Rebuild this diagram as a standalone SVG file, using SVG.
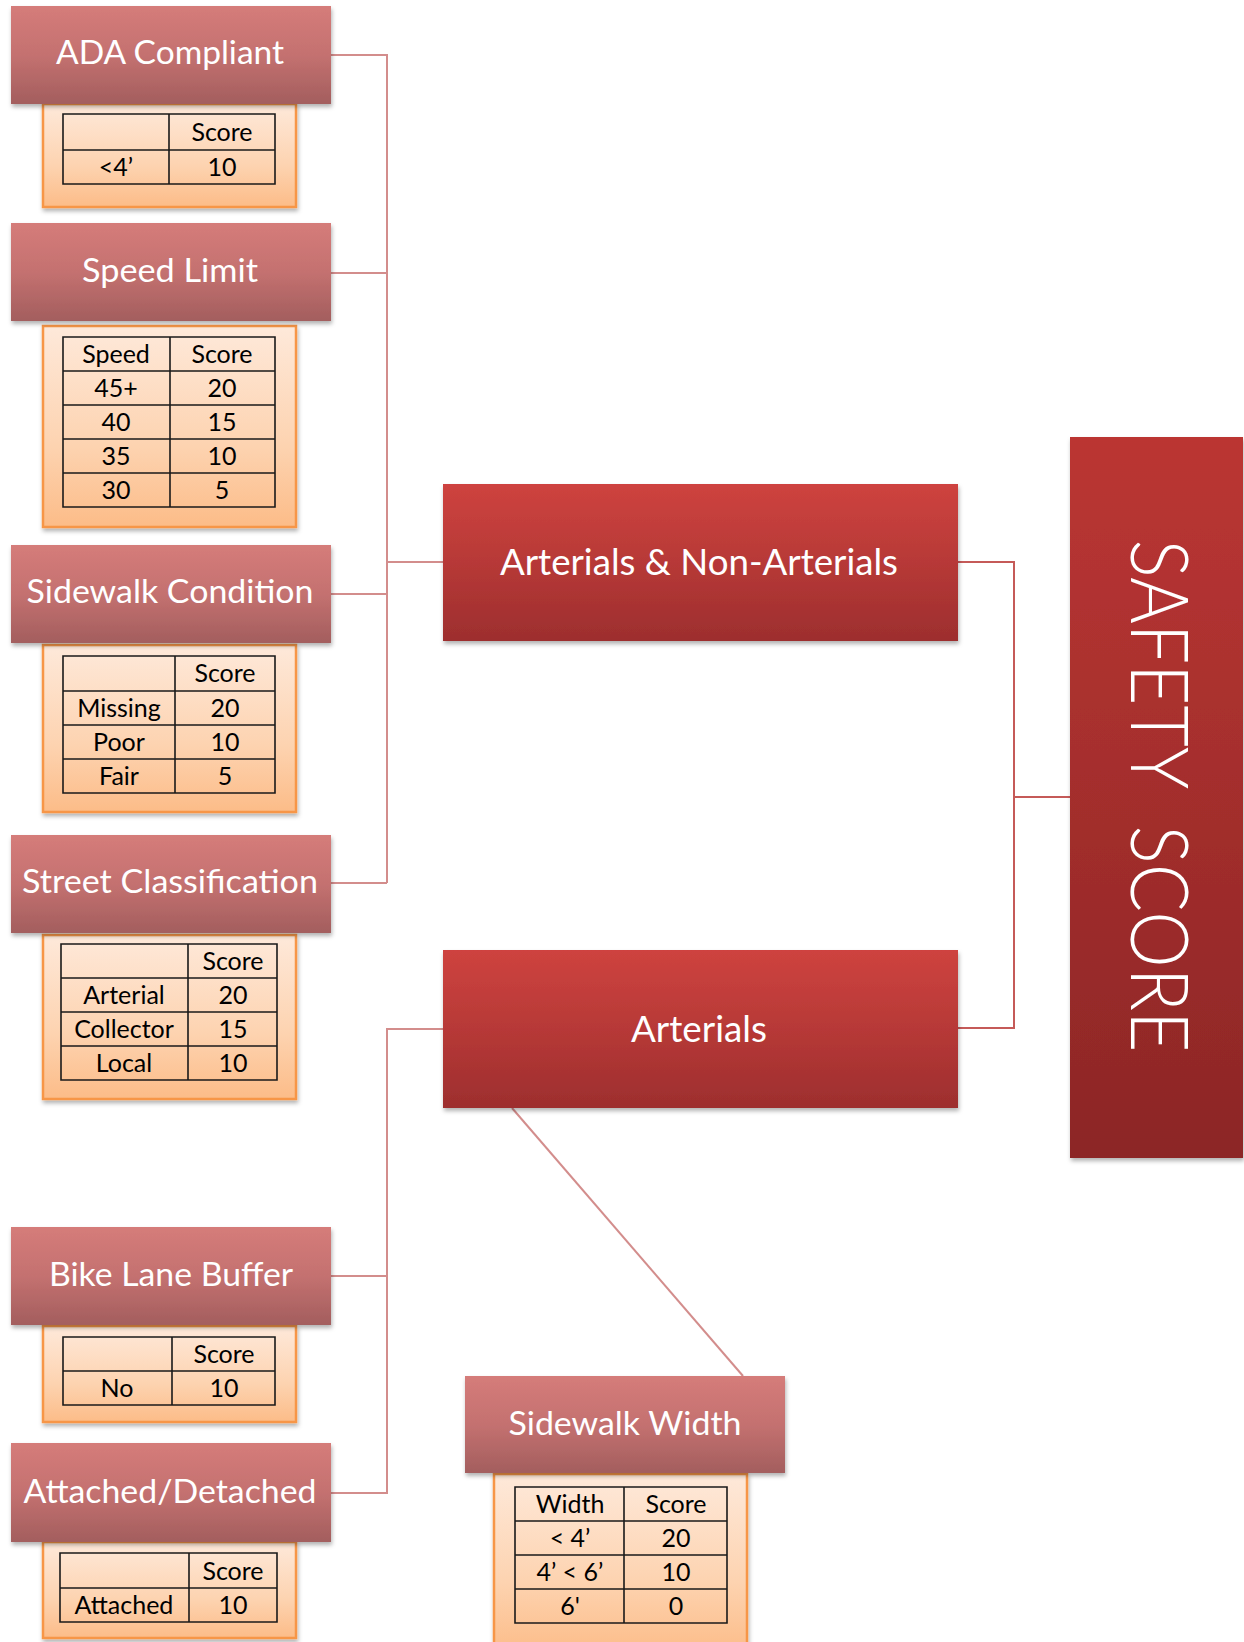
<svg xmlns="http://www.w3.org/2000/svg" width="1244" height="1642" viewBox="0 0 1244 1642">
<defs>
<linearGradient id="gHead" x1="0" y1="0" x2="0" y2="1">
<stop offset="0" stop-color="#D57C7A"/>
<stop offset="0.5" stop-color="#C47170"/>
<stop offset="1" stop-color="#A35E5E"/>
</linearGradient>
<linearGradient id="gOrange" x1="0" y1="0" x2="0" y2="1">
<stop offset="0" stop-color="#FEE9DA"/>
<stop offset="0.6" stop-color="#FDD3B0"/>
<stop offset="1" stop-color="#FCBC88"/>
</linearGradient>
<linearGradient id="gRed" x1="0" y1="0" x2="0" y2="1">
<stop offset="0" stop-color="#CE433F"/>
<stop offset="0.5" stop-color="#B73937"/>
<stop offset="1" stop-color="#9D2E2E"/>
</linearGradient>
<linearGradient id="gSafety" x1="0" y1="0" x2="0" y2="1">
<stop offset="0" stop-color="#BB3633"/>
<stop offset="1" stop-color="#8C2626"/>
</linearGradient>
<filter id="sh" x="-5%" y="-5%" width="112%" height="115%">
<feDropShadow dx="1" dy="3" stdDeviation="2" flood-color="#000" flood-opacity="0.3"/>
</filter>
</defs>
<style>
.head{fill:url(#gHead);filter:url(#sh)}
.orange{fill:url(#gOrange);stroke:#F79646;stroke-width:2.5;filter:url(#sh)}
.red{fill:url(#gRed);filter:url(#sh)}
.safety{fill:url(#gSafety);filter:url(#sh)}
.ht{font-family:Lato,"Liberation Sans",sans-serif;font-size:32px;fill:#fff;text-anchor:middle}
.bt{font-family:Lato,"Liberation Sans",sans-serif;font-size:36px;fill:#fff;text-anchor:middle}
.st{font-family:Lato,"Liberation Sans",sans-serif;font-weight:300;font-size:80px;fill:#fff;text-anchor:middle;word-spacing:22px}
.tb{fill:none;stroke:#1a1a1a;stroke-width:1.6}
.tt{font-family:Lato,"Liberation Sans",sans-serif;font-size:25px;fill:#000;text-anchor:middle}
.cl{fill:none;stroke:#D38D8C;stroke-width:2}
.cr{fill:none;stroke:#C55A58;stroke-width:2}
</style>

<g id="connectors">
<path class="cl" d="M331,55 H387 V883 M331,273 H387 M331,594 H387 M331,883 H387 M387,562 H443"/>
<path class="cl" d="M443,1029 H387 V1493 H331 M331,1276 H387"/>
<path class="cl" d="M512,1108 L743,1376"/>
<path class="cr" d="M958,562 H1014 V1028 H958 M1014,797 H1070"/>
</g>

<g id="ada-compliant">
<rect class="orange" x="43" y="104" width="253" height="103"/>
<rect class="head" x="11" y="6" width="320" height="98"/>
<text class="ht" x="170" y="64" textLength="228" lengthAdjust="spacingAndGlyphs">ADA Compliant</text>
<path class="tb" d="M63,114 H275 V184 H63 Z M169,114 V184 M63,150 H275"/>
<text class="tt" x="222" y="141">Score</text>
<text class="tt" x="116" y="176">&lt;4’</text>
<text class="tt" x="222" y="176">10</text>
</g>

<g id="speed-limit">
<rect class="orange" x="43" y="326" width="253" height="201"/>
<rect class="head" x="11" y="223" width="320" height="98"/>
<text class="ht" x="170" y="282" textLength="176" lengthAdjust="spacingAndGlyphs">Speed Limit</text>
<path class="tb" d="M63,337 H275 V507 H63 Z M170,337 V507 M63,371 H275 M63,405 H275 M63,439 H275 M63,473 H275"/>
<text class="tt" x="116" y="363">Speed</text><text class="tt" x="222" y="363">Score</text>
<text class="tt" x="116" y="397">45+</text><text class="tt" x="222" y="397">20</text>
<text class="tt" x="116" y="431">40</text><text class="tt" x="222" y="431">15</text>
<text class="tt" x="116" y="465">35</text><text class="tt" x="222" y="465">10</text>
<text class="tt" x="116" y="499">30</text><text class="tt" x="222" y="499">5</text>
</g>

<g id="sidewalk-condition">
<rect class="orange" x="43" y="645" width="253" height="167"/>
<rect class="head" x="11" y="545" width="320" height="98"/>
<text class="ht" x="170" y="603" textLength="287" lengthAdjust="spacingAndGlyphs">Sidewalk Condition</text>
<path class="tb" d="M63,656 H275 V793 H63 Z M175,656 V793 M63,691 H275 M63,725 H275 M63,759 H275"/>
<text class="tt" x="225" y="682">Score</text>
<text class="tt" x="119" y="717">Missing</text><text class="tt" x="225" y="717">20</text>
<text class="tt" x="119" y="751">Poor</text><text class="tt" x="225" y="751">10</text>
<text class="tt" x="119" y="785">Fair</text><text class="tt" x="225" y="785">5</text>
</g>

<g id="street-classification">
<rect class="orange" x="43" y="935" width="253" height="164"/>
<rect class="head" x="11" y="835" width="320" height="98"/>
<text class="ht" x="170" y="893" textLength="296" lengthAdjust="spacingAndGlyphs">Street Classification</text>
<path class="tb" d="M61,944 H277 V1080 H61 Z M188,944 V1080 M61,978 H277 M61,1012 H277 M61,1046 H277"/>
<text class="tt" x="233" y="970">Score</text>
<text class="tt" x="124" y="1004">Arterial</text><text class="tt" x="233" y="1004">20</text>
<text class="tt" x="124" y="1038">Collector</text><text class="tt" x="233" y="1038">15</text>
<text class="tt" x="124" y="1072">Local</text><text class="tt" x="233" y="1072">10</text>
</g>

<g id="bike-lane-buffer">
<rect class="orange" x="43" y="1326" width="253" height="96"/>
<rect class="head" x="11" y="1227" width="320" height="98"/>
<text class="ht" x="171" y="1286" textLength="244" lengthAdjust="spacingAndGlyphs">Bike Lane Buffer</text>
<path class="tb" d="M63,1337 H275 V1405 H63 Z M172,1337 V1405 M63,1371 H275"/>
<text class="tt" x="224" y="1363">Score</text>
<text class="tt" x="117" y="1397">No</text><text class="tt" x="224" y="1397">10</text>
</g>

<g id="attached-detached">
<rect class="orange" x="43" y="1542" width="253" height="96"/>
<rect class="head" x="11" y="1443" width="320" height="99"/>
<text class="ht" x="170" y="1503" textLength="293" lengthAdjust="spacingAndGlyphs">Attached/Detached</text>
<path class="tb" d="M60,1553 H277 V1622 H60 Z M189,1553 V1622 M60,1588 H277"/>
<text class="tt" x="233" y="1580">Score</text>
<text class="tt" x="124" y="1614">Attached</text><text class="tt" x="233" y="1614">10</text>
</g>

<g id="sidewalk-width">
<rect class="orange" x="494" y="1474" width="253" height="180"/>
<rect class="head" x="465" y="1376" width="320" height="97"/>
<text class="ht" x="625" y="1435" textLength="233" lengthAdjust="spacingAndGlyphs">Sidewalk Width</text>
<path class="tb" d="M515,1487 H727 V1623 H515 Z M624,1487 V1623 M515,1521 H727 M515,1555 H727 M515,1589 H727"/>
<text class="tt" x="570" y="1513">Width</text><text class="tt" x="676" y="1513">Score</text>
<text class="tt" x="570" y="1547">&lt; 4’</text><text class="tt" x="676" y="1547">20</text>
<text class="tt" x="570" y="1581">4’ &lt; 6’</text><text class="tt" x="676" y="1581">10</text>
<text class="tt" x="570" y="1615">6'</text><text class="tt" x="676" y="1615">0</text>
</g>

<g id="arterials-non-arterials">
<rect class="red" x="443" y="484" width="515" height="157"/>
<text class="bt" x="699" y="575" textLength="398" lengthAdjust="spacingAndGlyphs">Arterials &amp; Non-Arterials</text>
</g>

<g id="arterials">
<rect class="red" x="443" y="950" width="515" height="158"/>
<text class="bt" x="699" y="1042" textLength="136" lengthAdjust="spacingAndGlyphs">Arterials</text>
</g>

<g id="safety-score">
<rect class="safety" x="1070" y="437" width="173" height="721"/>
<text class="st" transform="translate(1131,796) rotate(90)" x="0" y="0" textLength="513" lengthAdjust="spacingAndGlyphs">SAFETY SCORE</text>
</g>
</svg>
